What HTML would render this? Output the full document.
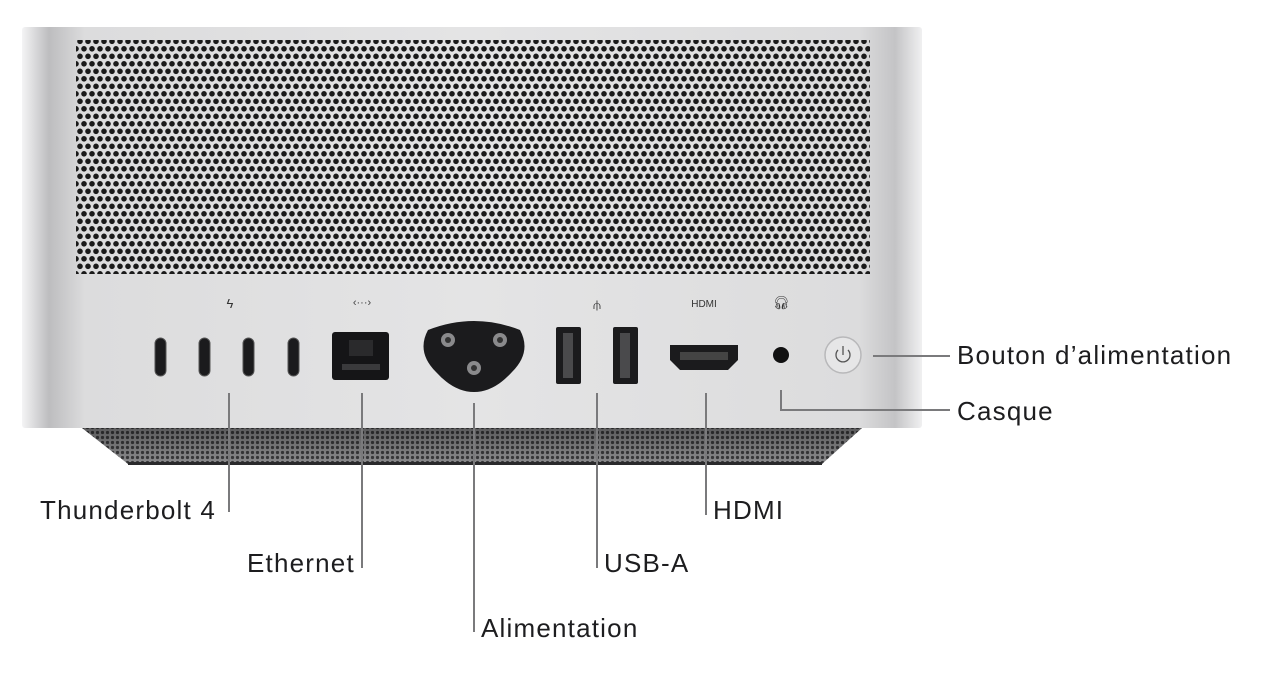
<!DOCTYPE html>
<html><head><meta charset="utf-8"><style>
html,body{margin:0;padding:0;background:#fff;}
body{width:1268px;height:678px;overflow:hidden;position:relative;font-family:"Liberation Sans",sans-serif;}
.lbl{position:absolute;font-size:26px;letter-spacing:1.2px;color:#1d1d1f;line-height:26px;white-space:nowrap;}
</style></head><body>
<svg width="1268" height="678" style="position:absolute;left:0;top:0">
<defs>
<pattern id="holes" width="8" height="15" patternUnits="userSpaceOnUse">
<circle cx="4" cy="3.8" r="2.8" fill="#1a1a1a"/>
<circle cx="0" cy="11.3" r="2.8" fill="#1a1a1a"/>
<circle cx="8" cy="11.3" r="2.8" fill="#1a1a1a"/>
</pattern>
<pattern id="mesh" width="5" height="5" patternUnits="userSpaceOnUse">
<rect width="5" height="5" fill="#8c8c8e"/>
<circle cx="2.5" cy="2.5" r="1.6" fill="#3a3a3c"/>
</pattern>
<linearGradient id="body" x1="0" x2="1" y1="0" y2="0">
<stop offset="0" stop-color="#f4f4f5"/>
<stop offset="0.03" stop-color="#bdbdbf"/>
<stop offset="0.07" stop-color="#dcdcdd"/>
<stop offset="0.5" stop-color="#e4e4e5"/>
<stop offset="0.93" stop-color="#dcdcdd"/>
<stop offset="0.97" stop-color="#c4c4c6"/>
<stop offset="1" stop-color="#f0f0f1"/>
</linearGradient>
<linearGradient id="meshshade" x1="0" x2="0" y1="0" y2="1">
<stop offset="0" stop-color="#000" stop-opacity="0.35"/>
<stop offset="1" stop-color="#000" stop-opacity="0"/>
</linearGradient>
</defs>
<path d="M82 428 L862 428 L822 464 L128 464 Z" fill="url(#mesh)"/>
<path d="M82 428 L862 428 L822 464 L128 464 Z" fill="url(#meshshade)"/>
<rect x="128" y="462" width="694" height="3" fill="#2a2a2c"/>
<rect x="22" y="27" width="900" height="401" rx="3" fill="url(#body)"/>
<rect x="76" y="40" width="794" height="234" fill="url(#holes)"/>
<g fill="#1b1b1d" stroke="#555" stroke-width="1">
<rect x="155" y="338" width="11" height="38" rx="5.5"/>
<rect x="199" y="338" width="11" height="38" rx="5.5"/>
<rect x="243" y="338" width="11" height="38" rx="5.5"/>
<rect x="288" y="338" width="11" height="38" rx="5.5"/>
</g>
<text x="230" y="308" font-size="13" text-anchor="middle" fill="#333">ϟ</text>
<text x="362" y="306" font-size="11" text-anchor="middle" fill="#444">‹···›</text>
<rect x="332" y="332" width="57" height="48" rx="3" fill="#151517"/>
<rect x="349" y="340" width="24" height="16" fill="#2a2a2c"/>
<rect x="342" y="364" width="38" height="6" fill="#3a3a3c"/>
<path d="M428 330 Q474 312 520 330 Q532 352 512 372 Q494 392 474 392 Q454 392 436 372 Q416 352 428 330 Z" fill="#1b1b1d"/>
<circle cx="448" cy="340" r="7" fill="#8a8a8c"/><circle cx="448" cy="340" r="3" fill="#333"/>
<circle cx="500" cy="340" r="7" fill="#8a8a8c"/><circle cx="500" cy="340" r="3" fill="#333"/>
<circle cx="474" cy="368" r="7" fill="#8a8a8c"/><circle cx="474" cy="368" r="3" fill="#333"/>
<text x="597" y="309" font-size="13" text-anchor="middle" fill="#333">⫛</text>
<rect x="556" y="327" width="25" height="57" rx="2" fill="#1b1b1d"/>
<rect x="563" y="333" width="10" height="45" fill="#4a4a4c"/>
<rect x="613" y="327" width="25" height="57" rx="2" fill="#1b1b1d"/>
<rect x="620" y="333" width="10" height="45" fill="#4a4a4c"/>
<text x="704" y="307" font-size="10" text-anchor="middle" fill="#333">HDMI</text>
<path d="M670 345 L738 345 L738 360 L728 370 L680 370 L670 360 Z" fill="#1b1b1d"/>
<rect x="680" y="352" width="48" height="8" fill="#444"/>
<text x="781" y="307" font-size="13" text-anchor="middle" fill="#333">🎧︎</text>
<circle cx="781" cy="355" r="8" fill="#111"/>
<circle cx="843" cy="355" r="18" fill="#e6e6e7" stroke="#b8b8ba" stroke-width="1.5"/>
<path d="M838 350 A7 7 0 1 0 848 350" fill="none" stroke="#555" stroke-width="1.3"/>
<line x1="843" y1="346" x2="843" y2="355" stroke="#555" stroke-width="1.3"/>
<g stroke="#7a7a7c" stroke-width="2" fill="none">
<line x1="229" y1="393" x2="229" y2="512"/>
<line x1="362" y1="393" x2="362" y2="568"/>
<line x1="474" y1="403" x2="474" y2="632"/>
<line x1="597" y1="393" x2="597" y2="568"/>
<line x1="706" y1="393" x2="706" y2="515"/>
<line x1="873" y1="356" x2="950" y2="356"/>
<polyline points="781,390 781,410 950,410"/>
</g>
</svg>
<div class="lbl" style="left:957px;top:342px">Bouton d’alimentation</div>
<div class="lbl" style="left:957px;top:398px">Casque</div>
<div class="lbl" style="left:40px;top:497px">Thunderbolt 4</div>
<div class="lbl" style="left:247px;top:550px">Ethernet</div>
<div class="lbl" style="left:481px;top:615px">Alimentation</div>
<div class="lbl" style="left:604px;top:550px">USB-A</div>
<div class="lbl" style="left:713px;top:497px">HDMI</div>
</body></html>
